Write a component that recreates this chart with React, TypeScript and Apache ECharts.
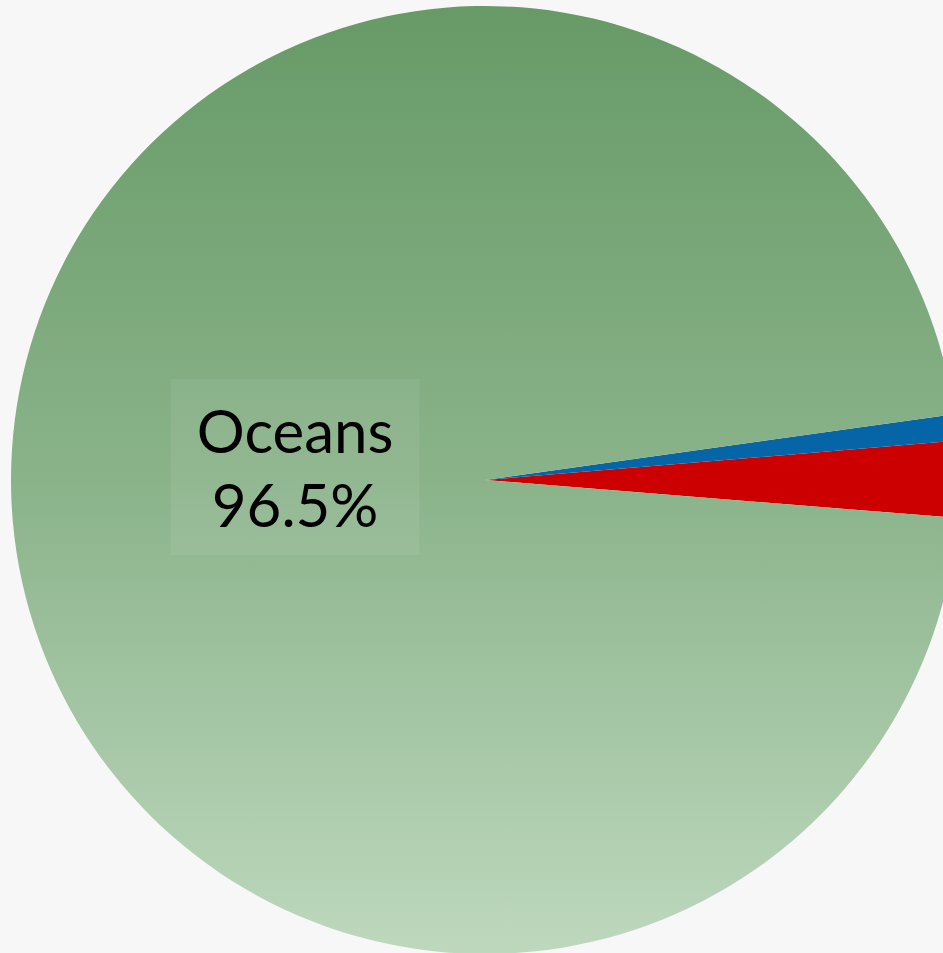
import React, { useEffect, useRef } from "react";
import * as echarts from "echarts";

const categories = ["Fresh water", "Other saline water", "Oceans"];
const shares = [2.6, 0.9, 96.5];
const labelShown = [false, false, true];
const sliceColors = ["#cc0000", "#0565a6", "oceans"];

export default function App() {
  const ref = useRef<HTMLDivElement>(null);
  useEffect(() => {
    if (!ref.current) return;
    const chart = echarts.init(ref.current, undefined, { renderer: "svg" });
    const oceanGradient = new echarts.graphic.LinearGradient(0, 0, 0, 1, [
      { offset: 0, color: "#679a67" },
      { offset: 0.5, color: "#8ab38a" },
      { offset: 1, color: "#bed8be" },
    ]);
    const data = categories.map((name, i) => ({
      name,
      value: shares[i],
      itemStyle: { color: sliceColors[i] === "oceans" ? oceanGradient : sliceColors[i] },
      label: { show: labelShown[i] },
    }));
    chart.setOption({
      animation: false,
      backgroundColor: "#f7f7f7",
      series: [
        {
          type: "pie",
          center: [485, 480],
          radius: [0, 474],
          clockwise: false,
          startAngle: -4.6,
          silent: true,
          itemStyle: { borderWidth: 0 },
          label: {
            position: "inside",
            formatter: (p: any) => `${p.name}\n${p.value}%`,
            color: "#000",
            fontFamily: "Lato, 'Noto Sans', sans-serif",
            fontSize: 60,
            lineHeight: 74,
            backgroundColor: "rgba(255,255,255,0.07)",
            padding: [14, 26, 14, 26],
          },
          labelLayout: { dx: 50, dy: -20 },
          labelLine: { show: false },
          data,
        },
      ],
    });
    return () => chart.dispose();
  }, []);
  return (
    <div
      ref={ref}
      style={{ position: "absolute", left: 0, top: 0, width: 943, height: 953 }}
    />
  );
}
